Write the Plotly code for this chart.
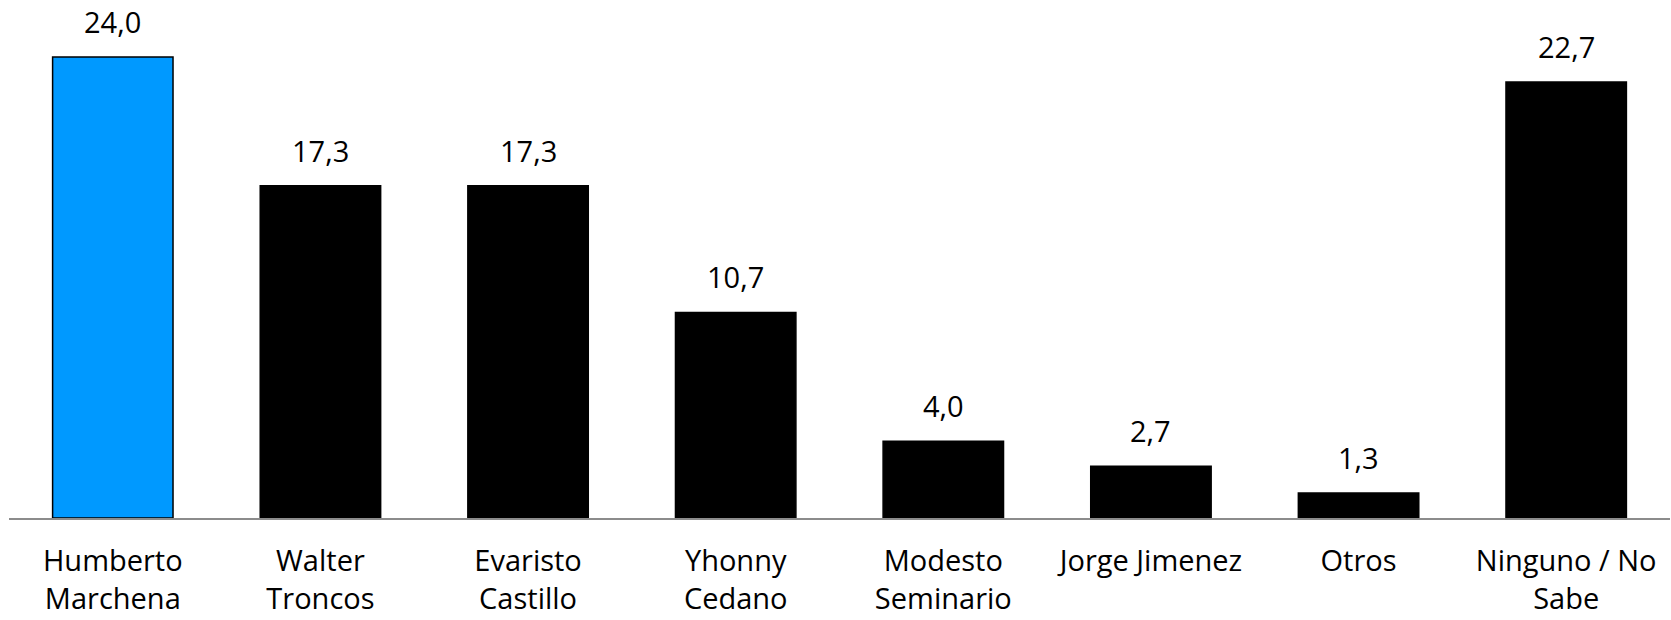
import plotly.graph_objects as go

candidatos = [
    "Humberto<br>Marchena",
    "Walter<br>Troncos",
    "Evaristo<br>Castillo",
    "Yhonny<br>Cedano",
    "Modesto<br>Seminario",
    "Jorge Jimenez",
    "Otros",
    "Ninguno / No<br>Sabe",
]
porcentajes = [24.0, 17.3, 17.3, 10.7, 4.0, 2.7, 1.3, 22.7]
colores = ["#0099FF"] + ["#000000"] * 7

fig = go.Figure()
fig.add_trace(go.Bar(
    x=candidatos,
    y=porcentajes,
    marker=dict(color=colores, line=dict(color="#000000", width=1.5)),
    width=0.58,
    hoverinfo="skip",
))

# etiquetas de valor con coma decimal
for c, v in zip(candidatos, porcentajes):
    fig.add_annotation(
        x=c, y=v, text=f"{v:.1f}".replace(".", ","),
        showarrow=False, yanchor="bottom", yshift=14,
        font=dict(family="Open Sans", size=29, color="#000000"),
    )

fig.update_layout(
    width=1671,
    height=620,
    margin=dict(l=9, r=1, t=8, b=102),
    paper_bgcolor="white",
    plot_bgcolor="white",
    showlegend=False,
    font=dict(family="Open Sans", size=29, color="#000000"),
    xaxis=dict(
        showline=True, linecolor="#8c8c8c", linewidth=2,
        showgrid=False, zeroline=False,
        ticks="outside", ticklen=16, tickcolor="rgba(0,0,0,0)",
        tickfont=dict(family="Open Sans", size=29, color="#000000"),
    ),
    yaxis=dict(
        range=[0, 26.55], visible=False, showgrid=False, zeroline=False,
    ),
)

# drop the default body margin so the figure sits at the page corner
fig.write_html(
    "out.html",
    config={"displayModeBar": False},
    post_script="document.body.style.margin = '0';",
)
